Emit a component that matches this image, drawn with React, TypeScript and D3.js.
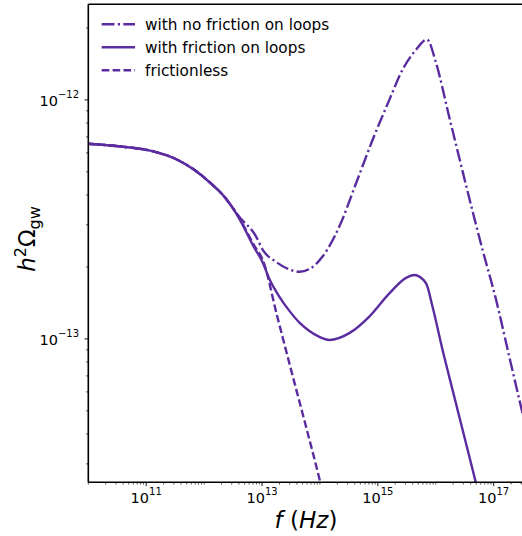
import React from "react";
import * as d3 from "d3";

// ---- data ----
const sharedF = [9.5e9, 3.65e10, 1.37e11, 3.04e11, 6.73e11, 1.3e12, 2.22e12];
const sharedO = [6.56e-13, 6.38e-13, 6.08e-13, 5.7e-13, 5.1e-13, 4.48e-13, 3.94e-13];

const frictionF = [4.07e12, 7.4e12, 1.02e13, 1.34e13, 2.0e13, 2.97e13, 4.43e13, 6.58e13, 9.79e13, 1.46e14, 3.22e14, 7.13e14, 1.58e15, 3.07e15, 4.27e15, 6.79e15, 8.83e15, 1.31e16, 1.95e16, 3.33e16, 5.0e16];
const frictionO = [3.18e-13, 2.4e-13, 2.1e-13, 1.78e-13, 1.5e-13, 1.31e-13, 1.17e-13, 1.08e-13, 1.02e-13, 9.9e-14, 1.057e-13, 1.24e-13, 1.55e-13, 1.8e-13, 1.85e-13, 1.71e-13, 1.36e-13, 9.0e-14, 6.12e-14, 3.66e-14, 2.47e-14];

const frictionlessF = [4.07e12, 7.4e12, 1.03e13, 1.82e13, 3.21e13, 5.7e13, 1.01e14, 1.1e14];
const frictionlessO = [3.2e-13, 2.45e-13, 2.14e-13, 1.25e-13, 7.35e-14, 4.33e-14, 2.52e-14, 2.31e-14];

const noFrictionF = [4.07e12, 7.91e12, 1.03e13, 1.75e13, 2.61e13, 4.42e13, 6.58e13, 1.11e14, 2.16e14, 4.21e14, 8.13e14, 1.58e15, 2.68e15, 4.56e15, 7.06e15, 1.01e16, 1.71e16, 6.43e16, 1.1e17, 1.86e17, 2.96e17, 3.51e17];
const noFrictionO = [3.24e-13, 2.68e-13, 2.36e-13, 2.1e-13, 1.98e-13, 1.91e-13, 1.96e-13, 2.21e-13, 2.95e-13, 4.48e-13, 6.81e-13, 1.0e-12, 1.34e-12, 1.62e-12, 1.79e-12, 1.43e-12, 8.48e-13, 2.36e-13, 1.46e-13, 8.43e-14, 5.21e-14, 4.37e-14];

const legendLabels = ["with no friction on loops", "with friction on loops", "frictionless"];
const xMajorExps = [11, 13, 15, 17];
const yMajorExps = [-12, -13];

const COLOR = "#5b2c9f";
const FONT = "DejaVu Sans, sans-serif";

export default function App() {
  const W = 522, H = 536;
  const left = 88.3, right = 522.6, top = 4.3, bottom = 482.3;
  const x = d3.scaleLog().domain([1e10, Math.pow(10, 17.5)]).range([left, right]);
  const y = d3.scaleLog().domain([Math.pow(10, -13.6), Math.pow(10, -11.6)]).range([bottom, top]);

  const line = d3
    .line<[number, number]>()
    .x((d) => x(d[0]))
    .y((d) => y(d[1]))
    .curve(d3.curveMonotoneX);

  const zip = (f: number[], o: number[]) => f.map((v, i) => [v, o[i]] as [number, number]);
  const shared = zip(sharedF, sharedO);
  const series = [
    { data: shared.concat(zip(noFrictionF, noFrictionO)), dash: "12.8,3.3,2.2,3.3" },
    { data: shared.concat(zip(frictionF, frictionO)), dash: "none" },
    { data: shared.concat(zip(frictionlessF, frictionlessO)), dash: "7.6,3.3" },
  ];

  // ticks
  const xMinor: number[] = [];
  for (let e = 9; e <= 17; e++) {
    for (let m = 1; m <= 9; m++) {
      const v = m * Math.pow(10, e);
      if (m === 1 && e % 2 === 1) continue;
      if (v >= 1e10 && x(v) <= right) xMinor.push(v);
    }
  }
  const yMinor: number[] = [];
  for (let e = -14; e <= -12; e++) {
    for (let m = 2; m <= 9; m++) {
      const v = m * Math.pow(10, e);
      if (y(v) >= top && y(v) <= bottom) yMinor.push(v);
    }
  }

  return (
    <svg width={W} height={H} style={{ position: "absolute", left: 0, top: 0, background: "#fff" }} fontFamily={FONT}>
      <rect width={W} height={H} fill="#fff" />
      <defs>
        <clipPath id="plotclip">
          <rect x={left} y={top} width={right - left} height={bottom - top} />
        </clipPath>
      </defs>
      <g clipPath="url(#plotclip)">
        {series.map((s, i) => (
          <path key={i} d={line(s.data) || ""} fill="none" stroke={COLOR} strokeWidth={2.4} strokeDasharray={s.dash} />
        ))}
      </g>
      {/* spines */}
      <line x1={left} x2={left} y1={top} y2={bottom} stroke="#000" strokeWidth={1.6} />
      <line x1={left} x2={W} y1={top} y2={top} stroke="#000" strokeWidth={1.6} />
      <line x1={left} x2={W} y1={bottom} y2={bottom} stroke="#000" strokeWidth={1.6} />
      {/* x ticks */}
      {xMinor.map((v, i) => (
        <line key={"xm" + i} x1={x(v)} x2={x(v)} y1={bottom} y2={bottom + 2.2} stroke="#000" strokeWidth={0.7} />
      ))}
      {xMajorExps.map((e) => {
        const px = x(Math.pow(10, e));
        return (
          <g key={"xM" + e}>
            <line x1={px} x2={px} y1={bottom} y2={bottom + 3.8} stroke="#000" strokeWidth={0.9} />
            <text x={px} y={503.3} textAnchor="middle" fontSize={14.5} fill="#000">
              10<tspan dy={-8} fontSize={10}>{e}</tspan>
            </text>
          </g>
        );
      })}
      {/* y ticks */}
      {yMinor.map((v, i) => (
        <line key={"ym" + i} x1={left} x2={left - 2.2} y1={y(v)} y2={y(v)} stroke="#000" strokeWidth={0.7} />
      ))}
      {yMajorExps.map((e) => {
        const py = y(Math.pow(10, e));
        return (
          <g key={"yM" + e}>
            <line x1={left} x2={left - 3.8} y1={py} y2={py} stroke="#000" strokeWidth={0.9} />
            <text x={79} y={py + 5.7} textAnchor="end" fontSize={14.5} fill="#000">
              10<tspan dy={-7.5} fontSize={10}>{"\u2212" + Math.abs(e)}</tspan>
            </text>
          </g>
        );
      })}
      {/* axis labels */}
      <text x={306} y={528} textAnchor="middle" fontSize={23} fill="#000">
        <tspan fontStyle="italic">f</tspan>
        <tspan> (</tspan>
        <tspan fontStyle="italic">Hz</tspan>
        <tspan>)</tspan>
      </text>
      <text transform="translate(35,239) rotate(-90)" textAnchor="middle" fontSize={23} fill="#000">
        <tspan fontStyle="italic">h</tspan>
        <tspan dy={-9} fontSize={16}>2</tspan>
        <tspan dy={9}>Ω</tspan>
        <tspan dy={5} fontSize={16}>gw</tspan>
      </text>
      {/* legend */}
      {legendLabels.map((lab, i) => {
        const ly = 24.3 + i * 23;
        const dash = series[i].dash;
        return (
          <g key={"lg" + i}>
            <line x1={101.7} x2={135} y1={ly} y2={ly} stroke={COLOR} strokeWidth={2.4} strokeDasharray={dash} />
            <text x={145} y={ly + 5.5} fontSize={15.3} fill="#000">{lab}</text>
          </g>
        );
      })}
    </svg>
  );
}
